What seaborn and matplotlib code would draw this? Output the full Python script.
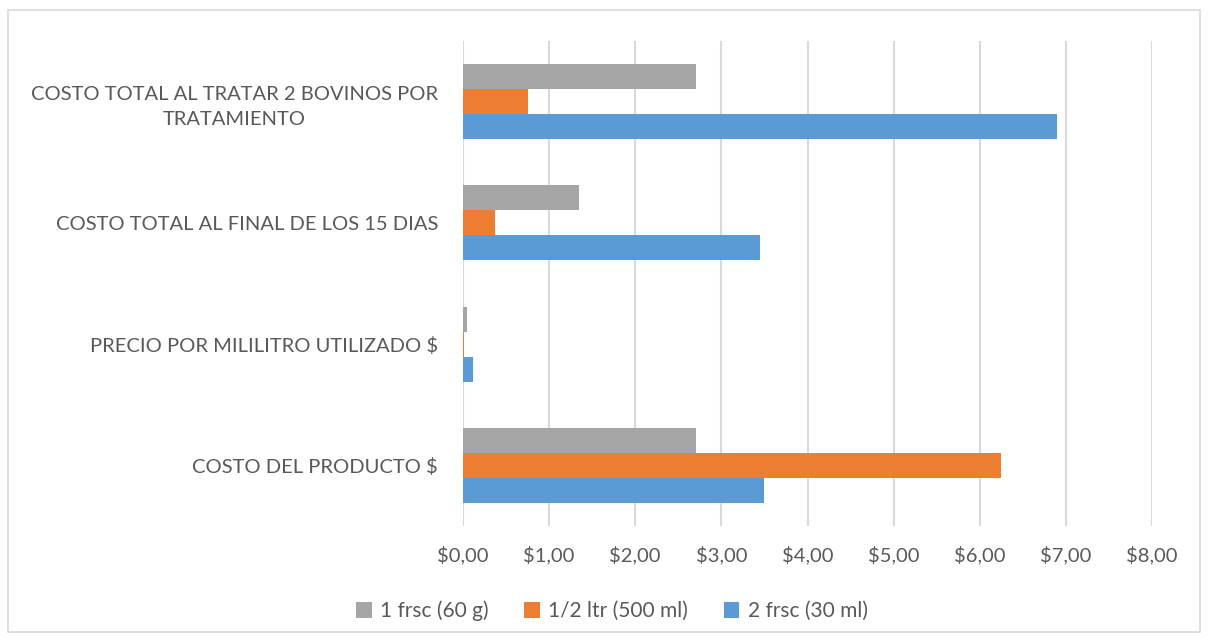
import matplotlib
matplotlib.use("Agg")
import matplotlib.pyplot as plt
import matplotlib.ticker as mticker
from matplotlib.patches import Rectangle
import seaborn as sns
import pandas as pd

categories = [
    "COSTO TOTAL AL TRATAR 2 BOVINOS POR\nTRATAMIENTO",
    "COSTO TOTAL AL FINAL DE LOS 15 DIAS",
    "PRECIO POR MILILITRO UTILIZADO $",
    "COSTO DEL PRODUCTO $",
]
series_names = ["1 frsc (60 g)", "1/2 ltr (500 ml)", "2 frsc (30 ml)"]
frsc_60g = [2.70, 1.35, 0.045, 2.70]
ltr_500ml = [0.75, 0.375, 0.0125, 6.25]
frsc_30ml = [6.90, 3.45, 0.117, 3.50]
colors = ["#A5A5A5", "#ED7D31", "#5B9BD5"]
xticks = [0, 1, 2, 3, 4, 5, 6, 7, 8]

rows = []
for name, vals in zip(series_names, [frsc_60g, ltr_500ml, frsc_30ml]):
    for c, v in zip(categories, vals):
        rows.append({"cat": c, "serie": name, "valor": v})
df = pd.DataFrame(rows)

sns.set_theme(style="white")
plt.rcParams["font.family"] = ["Lato", "DejaVu Sans"]
text_color = "#595959"

fig = plt.figure(figsize=(12.08, 6.4), dpi=100)
ax = fig.add_axes([463 / 1208, 1 - 526 / 640, (1152 - 463) / 1208, (526 - 41) / 640])

sns.barplot(data=df, y="cat", x="valor", hue="serie", order=categories,
            hue_order=series_names, palette=colors, orient="h", width=0.62,
            dodge=True, errorbar=None, ax=ax, saturation=1,
            linewidth=0, legend=True)

ax.set_xlim(0, 8)
ax.set_xticks(xticks)
ax.xaxis.set_major_formatter(mticker.FuncFormatter(lambda v, p: "$" + f"{v:.2f}".replace(".", ",")))
ax.grid(axis="x", color="#D9D9D9", linewidth=1.5)
ax.set_axisbelow(True)
for s in ax.spines.values():
    s.set_visible(False)
ax.set_xlabel("")
ax.set_ylabel("")
ax.tick_params(axis="x", colors=text_color, labelsize=14.5, length=0, pad=14)
ax.tick_params(axis="y", colors=text_color, labelsize=14.5, length=0, pad=18)
for lbl in ax.get_yticklabels():
    lbl.set_multialignment("center")
    lbl.set_linespacing(1.55)

leg = ax.legend(loc="center", bbox_to_anchor=(612 / 1208, 1 - 611 / 640), bbox_transform=fig.transFigure,
                ncol=3, frameon=False, fontsize=15, handlelength=0.75, handleheight=0.75,
                columnspacing=1.7, handletextpad=0.4, labelcolor=text_color)
for h in leg.legend_handles:
    h.set_edgecolor("none")

fig.patches.append(Rectangle((8 / 1208, 1 - 632 / 640), 1192 / 1208, 622 / 640, transform=fig.transFigure,
                             fill=False, edgecolor="#D9D9D9", linewidth=1.2))

fig.savefig("out.png", dpi=100)
